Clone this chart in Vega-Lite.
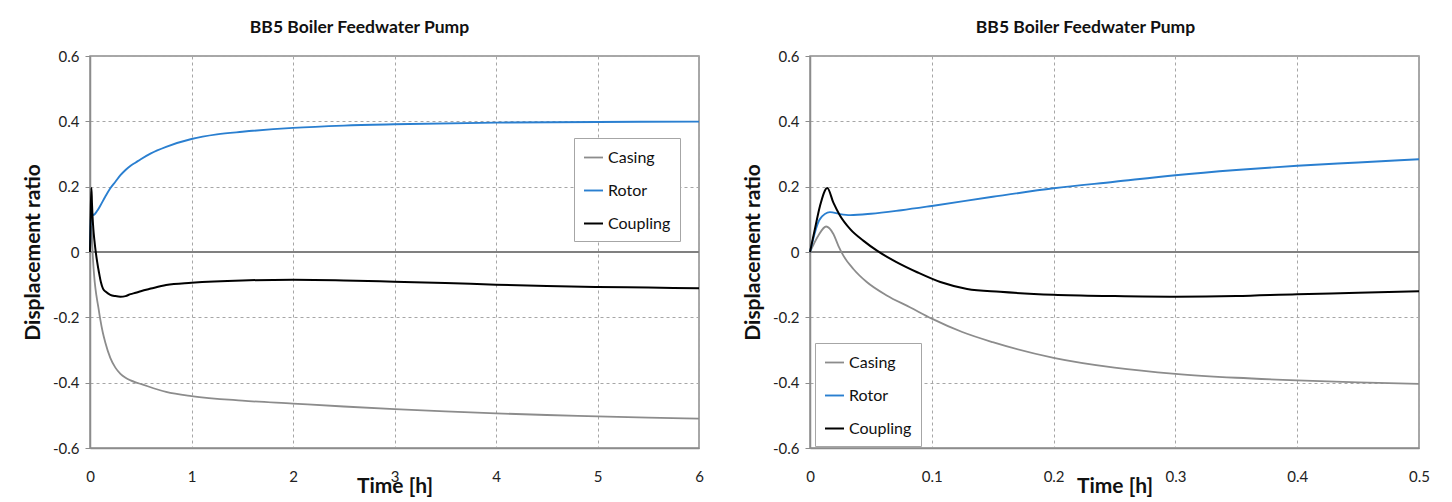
{
  "$schema": "https://vega.github.io/schema/vega-lite/v6.json",
  "background": "white",
  "padding": {"left": 21, "top": 17, "right": 0, "bottom": 0},
  "datasets": {
    "d": [
      {"t": 0, "v": 0, "s": "Casing"},
      {"t": 0.0068, "v": 0.05, "s": "Casing"},
      {"t": 0.0132, "v": 0.078, "s": "Casing"},
      {"t": 0.0192, "v": 0.055, "s": "Casing"},
      {"t": 0.0233, "v": 0.019, "s": "Casing"},
      {"t": 0.0274, "v": -0.011, "s": "Casing"},
      {"t": 0.0356, "v": -0.052, "s": "Casing"},
      {"t": 0.0466, "v": -0.092, "s": "Casing"},
      {"t": 0.063, "v": -0.133, "s": "Casing"},
      {"t": 0.082, "v": -0.169, "s": "Casing"},
      {"t": 0.1, "v": -0.204, "s": "Casing"},
      {"t": 0.125, "v": -0.245, "s": "Casing"},
      {"t": 0.15, "v": -0.276, "s": "Casing"},
      {"t": 0.2, "v": -0.324, "s": "Casing"},
      {"t": 0.25, "v": -0.354, "s": "Casing"},
      {"t": 0.3, "v": -0.373, "s": "Casing"},
      {"t": 0.35, "v": -0.385, "s": "Casing"},
      {"t": 0.4, "v": -0.393, "s": "Casing"},
      {"t": 0.45, "v": -0.399, "s": "Casing"},
      {"t": 0.5, "v": -0.404, "s": "Casing"},
      {"t": 0.75, "v": -0.428, "s": "Casing"},
      {"t": 1, "v": -0.441, "s": "Casing"},
      {"t": 1.5, "v": -0.455, "s": "Casing"},
      {"t": 2, "v": -0.464, "s": "Casing"},
      {"t": 2.5, "v": -0.473, "s": "Casing"},
      {"t": 3, "v": -0.481, "s": "Casing"},
      {"t": 3.5, "v": -0.488, "s": "Casing"},
      {"t": 4, "v": -0.494, "s": "Casing"},
      {"t": 4.5, "v": -0.499, "s": "Casing"},
      {"t": 5, "v": -0.503, "s": "Casing"},
      {"t": 5.5, "v": -0.507, "s": "Casing"},
      {"t": 6, "v": -0.51, "s": "Casing"},
      {"t": 0, "v": 0, "s": "Rotor"},
      {"t": 0.008, "v": 0.1, "s": "Rotor"},
      {"t": 0.0164, "v": 0.122, "s": "Rotor"},
      {"t": 0.0247, "v": 0.116, "s": "Rotor"},
      {"t": 0.033, "v": 0.113, "s": "Rotor"},
      {"t": 0.05, "v": 0.117, "s": "Rotor"},
      {"t": 0.075, "v": 0.128, "s": "Rotor"},
      {"t": 0.1, "v": 0.141, "s": "Rotor"},
      {"t": 0.15, "v": 0.169, "s": "Rotor"},
      {"t": 0.2, "v": 0.195, "s": "Rotor"},
      {"t": 0.25, "v": 0.215, "s": "Rotor"},
      {"t": 0.3, "v": 0.235, "s": "Rotor"},
      {"t": 0.35, "v": 0.251, "s": "Rotor"},
      {"t": 0.4, "v": 0.264, "s": "Rotor"},
      {"t": 0.45, "v": 0.274, "s": "Rotor"},
      {"t": 0.5, "v": 0.284, "s": "Rotor"},
      {"t": 0.6, "v": 0.302, "s": "Rotor"},
      {"t": 0.75, "v": 0.322, "s": "Rotor"},
      {"t": 1, "v": 0.346, "s": "Rotor"},
      {"t": 1.25, "v": 0.36, "s": "Rotor"},
      {"t": 1.5, "v": 0.368, "s": "Rotor"},
      {"t": 2, "v": 0.38, "s": "Rotor"},
      {"t": 2.5, "v": 0.387, "s": "Rotor"},
      {"t": 3, "v": 0.391, "s": "Rotor"},
      {"t": 4, "v": 0.396, "s": "Rotor"},
      {"t": 5, "v": 0.398, "s": "Rotor"},
      {"t": 6, "v": 0.399, "s": "Rotor"},
      {"t": 0, "v": 0, "s": "Coupling"},
      {"t": 0.004, "v": 0.07, "s": "Coupling"},
      {"t": 0.0082, "v": 0.141, "s": "Coupling"},
      {"t": 0.0142, "v": 0.196, "s": "Coupling"},
      {"t": 0.0192, "v": 0.151, "s": "Coupling"},
      {"t": 0.0247, "v": 0.111, "s": "Coupling"},
      {"t": 0.033, "v": 0.07, "s": "Coupling"},
      {"t": 0.044, "v": 0.034, "s": "Coupling"},
      {"t": 0.055, "v": 0.004, "s": "Coupling"},
      {"t": 0.071, "v": -0.031, "s": "Coupling"},
      {"t": 0.088, "v": -0.062, "s": "Coupling"},
      {"t": 0.107, "v": -0.092, "s": "Coupling"},
      {"t": 0.129, "v": -0.113, "s": "Coupling"},
      {"t": 0.156, "v": -0.122, "s": "Coupling"},
      {"t": 0.2, "v": -0.131, "s": "Coupling"},
      {"t": 0.25, "v": -0.135, "s": "Coupling"},
      {"t": 0.3, "v": -0.137, "s": "Coupling"},
      {"t": 0.35, "v": -0.135, "s": "Coupling"},
      {"t": 0.4, "v": -0.129, "s": "Coupling"},
      {"t": 0.45, "v": -0.125, "s": "Coupling"},
      {"t": 0.5, "v": -0.12, "s": "Coupling"},
      {"t": 0.6, "v": -0.112, "s": "Coupling"},
      {"t": 0.75, "v": -0.101, "s": "Coupling"},
      {"t": 1, "v": -0.094, "s": "Coupling"},
      {"t": 1.5, "v": -0.087, "s": "Coupling"},
      {"t": 2, "v": -0.085, "s": "Coupling"},
      {"t": 2.5, "v": -0.087, "s": "Coupling"},
      {"t": 3, "v": -0.091, "s": "Coupling"},
      {"t": 3.5, "v": -0.095, "s": "Coupling"},
      {"t": 4, "v": -0.1, "s": "Coupling"},
      {"t": 4.5, "v": -0.104, "s": "Coupling"},
      {"t": 5, "v": -0.107, "s": "Coupling"},
      {"t": 5.5, "v": -0.109, "s": "Coupling"},
      {"t": 6, "v": -0.111, "s": "Coupling"}
    ],
    "zero": [{"z": 0}]
  },
  "spacing": 36,
  "resolve": {"legend": {"color": "independent", "strokeWidth": "independent"}},
  "hconcat": [
    {
      "width": 609,
      "height": 392,
      "title": {"text": "BB5 Boiler Feedwater Pump", "dx": -35},
      "layer": [
        {
          "data": {"name": "zero"},
          "mark": {"type": "rule", "color": "#808080", "strokeWidth": 2},
          "encoding": {"y": {"field": "z", "type": "quantitative", "scale": {"domain": [-0.6, 0.6], "nice": false}}}
        },
        {
          "data": {"name": "d"},
          "mark": {"type": "line", "interpolate": "monotone"},
          "encoding": {
            "x": {"field": "t", "type": "quantitative", "title": "Time [h]",
                  "scale": {"domain": [0, 6], "nice": false},
                  "axis": {"values": [0, 1, 2, 3, 4, 5, 6], "format": "~g"}},
            "y": {"field": "v", "type": "quantitative", "title": "Displacement ratio",
                  "scale": {"domain": [-0.6, 0.6], "nice": false},
                  "axis": {"values": [-0.6, -0.4, -0.2, 0, 0.2, 0.4, 0.6],
                           "labelExpr": "datum.value == 0 ? '0' : (datum.value < 0 ? '-' + format(-datum.value, '.1f') : format(datum.value, '.1f'))"}},
            "color": {"field": "s", "type": "nominal",
                      "scale": {"domain": ["Casing", "Rotor", "Coupling"], "range": ["#8c8c8c", "#2a7fd0", "#000000"]},
                      "legend": {"orient": "none", "legendX": 484, "legendY": 82, "title": null}},
            "strokeWidth": {"field": "s", "type": "nominal",
                      "scale": {"domain": ["Casing", "Rotor", "Coupling"], "range": [1.8, 2, 3.2]},
                      "legend": {"orient": "none", "legendX": 484, "legendY": 82, "title": null}}
          }
        }
      ]
    },
    {
      "width": 609,
      "height": 392,
      "title": {"text": "BB5 Boiler Feedwater Pump", "dx": -29},
      "layer": [
        {
          "data": {"name": "zero"},
          "mark": {"type": "rule", "color": "#808080", "strokeWidth": 2},
          "encoding": {"y": {"field": "z", "type": "quantitative", "scale": {"domain": [-0.6, 0.6], "nice": false}}}
        },
        {
          "data": {"name": "d"},
          "transform": [{"filter": "datum.t <= 0.5"}],
          "mark": {"type": "line", "interpolate": "monotone"},
          "encoding": {
            "x": {"field": "t", "type": "quantitative", "title": "Time [h]",
                  "scale": {"domain": [0, 0.5], "nice": false},
                  "axis": {"values": [0, 0.1, 0.2, 0.3, 0.4, 0.5], "format": "~g"}},
            "y": {"field": "v", "type": "quantitative", "title": "Displacement ratio",
                  "scale": {"domain": [-0.6, 0.6], "nice": false},
                  "axis": {"values": [-0.6, -0.4, -0.2, 0, 0.2, 0.4, 0.6],
                           "labelExpr": "datum.value == 0 ? '0' : (datum.value < 0 ? '-' + format(-datum.value, '.1f') : format(datum.value, '.1f'))"}},
            "color": {"field": "s", "type": "nominal",
                      "scale": {"domain": ["Casing", "Rotor", "Coupling"], "range": ["#8c8c8c", "#2a7fd0", "#000000"]},
                      "legend": {"orient": "none", "legendX": 5, "legendY": 287, "title": null}},
            "strokeWidth": {"field": "s", "type": "nominal",
                      "scale": {"domain": ["Casing", "Rotor", "Coupling"], "range": [1.8, 2, 3.2]},
                      "legend": {"orient": "none", "legendX": 5, "legendY": 287, "title": null}}
          }
        }
      ]
    }
  ],
  "config": {
    "font": "Lato",
    "view": {"stroke": "#8c8c8c", "strokeWidth": 1.5},
    "title": {"font": "Lato", "fontSize": 17.5, "fontWeight": "bold", "color": "#111", "anchor": "middle", "frame": "group", "offset": 13},
    "axis": {
      "labelFont": "Lato", "labelFontSize": 15, "labelColor": "#222",
      "titleFont": "Lato", "titleFontSize": 21, "titleFontWeight": "bold", "titleColor": "#111",
      "grid": true, "gridColor": "#a6a6a6", "gridDash": [3, 3], "gridWidth": 1,
      "domainColor": "#8c8c8c", "domainWidth": 1.5,
      "tickColor": "#8c8c8c", "tickSize": 5
    },
    "axisX": {"ticks": false, "labelPadding": 21, "titlePadding": -9, "labelFlush": false},
    "axisY": {"labelPadding": 6, "titlePadding": 9},
    "legend": {
      "fillColor": "white", "strokeColor": "#a6a6a6", "padding": 9,
      "labelFont": "Lato", "labelFontSize": 16, "labelColor": "#111", "labelOffset": 4,
      "symbolType": "stroke", "symbolSize": 361, "rowPadding": 14, "labelLimit": 200
    }
  }
}
